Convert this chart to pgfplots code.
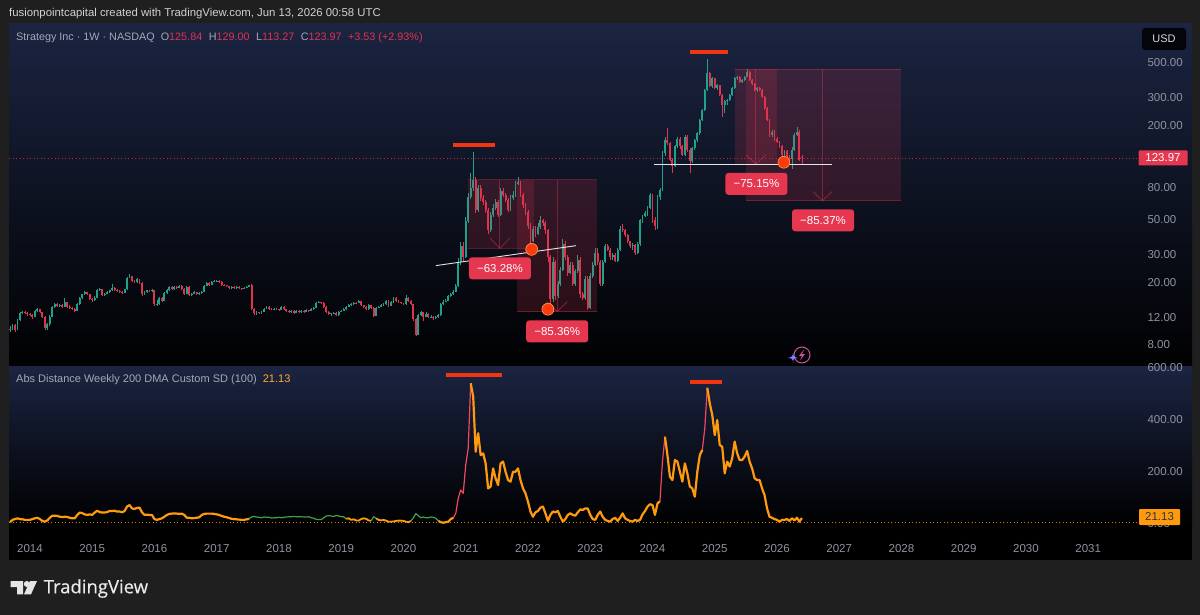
\documentclass[border=0pt]{standalone}
\usepackage{pgfplots}
\usepackage{pgfplotstable}
\usepackage{fontspec}
\setmainfont{Liberation Sans}
\newfontfamily\logofont[FakeBold=0.4]{Open Sans}
\pgfplotsset{compat=1.18}
\definecolor{pagebg}{HTML}{1F1F1F}
\definecolor{navy}{HTML}{1B2441}
\definecolor{upc}{HTML}{1FA18C}
\definecolor{downc}{HTML}{E0344E}
\definecolor{lab}{HTML}{E5374F}
\definecolor{tickc}{HTML}{8F939E}
\definecolor{txtc}{HTML}{A4A8B3}
\definecolor{barred}{HTML}{F23410}
\definecolor{dotred}{HTML}{FF3B0E}
\definecolor{ind}{HTML}{FF9A0F}
\definecolor{indg}{HTML}{3FA14A}
\definecolor{indr}{HTML}{F0485E}
\pgfplotstableread{
x o h l c v
2013.68 9.9 10.5 9.6 10.15 5
2013.72 10.15 10.9 10.0 10.75 14
2013.76 10.75 10.9 9.6 9.95 17
2013.80 9.95 11.7 9.9 11.5 20
2013.84 11.5 12.9 11.4 12.75 17
2013.88 12.75 13.1 12.6 12.9 16
2013.92 12.9 13.1 12.5 12.7 14
2013.96 12.7 12.9 12.3 12.5 14
2014.00 12.5 12.7 12.2 12.4 14
2014.04 12.4 12.6 11.7 12.1 17
2014.08 12.1 13.4 12.0 13.2 20
2014.12 13.2 13.8 13.0 13.5 22
2014.16 13.5 13.6 12.7 12.9 17
2014.20 12.9 13.0 11.9 12.1 10
2014.24 12.1 12.2 10.0 10.3 7
2014.28 10.3 11.1 10.0 10.8 12
2014.32 10.8 12.4 10.6 12.1 22
2014.36 12.1 14.2 12.0 14.0 30
2014.40 14.0 14.8 13.8 14.5 30
2014.44 14.5 14.7 14.0 14.2 29
2014.48 14.2 14.5 14.0 14.3 26
2014.52 14.3 14.5 13.8 14.0 25
2014.56 14.0 15.9 13.9 15.0 26
2014.60 15.0 15.1 13.8 14.0 25
2014.64 14.0 14.3 13.6 13.8 22
2014.68 13.8 14.0 13.4 13.6 20
2014.72 13.6 13.8 13.0 13.2 20
2014.76 13.2 14.7 13.1 14.5 33
2014.80 14.5 16.2 14.4 16.0 42
2014.84 16.0 17.0 15.8 16.8 40
2014.88 16.8 17.7 16.7 17.4 35
2014.92 17.4 17.5 16.6 16.8 33
2014.96 16.8 16.9 15.6 15.8 35
2015.00 15.8 16.0 15.1 15.4 33
2015.04 15.4 16.3 15.2 16.0 42
2015.08 16.0 18.1 15.9 17.9 49
2015.12 17.9 18.4 17.6 18.05 44
2015.16 18.05 18.2 16.3 16.6 42
2015.20 16.6 17.2 16.4 17.0 42
2015.24 17.0 17.6 16.8 17.4 44
2015.28 17.4 18.0 17.2 17.8 48
2015.32 17.8 19.6 17.6 18.5 48
2015.36 18.5 18.7 17.7 17.9 49
2015.40 17.9 18.1 17.4 17.6 46
2015.44 17.6 17.8 17.3 17.5 46
2015.48 17.5 17.7 17.0 17.2 43
2015.52 17.2 18.3 17.1 18.05 48
2015.56 18.05 21.7 18.0 21.4 65
2015.60 21.4 22.6 21.2 21.9 71
2015.64 21.9 22.1 20.2 20.4 58
2015.68 20.4 20.7 19.8 20.1 56
2015.72 20.1 21.2 19.9 20.9 60
2015.76 20.9 21.1 19.6 19.9 61
2015.80 19.9 20.0 16.4 16.8 43
2015.84 16.8 17.6 16.6 17.4 33
2015.88 17.4 18.0 17.2 17.8 34
2015.92 17.8 18.0 17.4 17.6 33
2015.96 17.6 18.1 17.4 17.9 33
2016.00 17.9 18.0 14.2 14.5 17
2016.04 14.5 15.5 14.1 14.6 14
2016.08 14.6 16.2 14.3 16.0 17
2016.12 16.0 16.2 15.0 15.3 20
2016.16 15.3 17.4 15.2 17.2 26
2016.20 17.2 18.1 17.0 17.9 33
2016.24 17.9 19.0 17.7 18.8 37
2016.28 18.8 19.0 17.8 18.05 38
2016.32 18.05 19.0 17.9 18.8 39
2016.36 18.8 19.1 18.3 18.5 38
2016.40 18.5 19.3 18.4 19.0 37
2016.44 19.0 19.2 18.1 18.3 38
2016.48 18.3 18.4 16.8 17.0 33
2016.52 17.0 19.0 16.9 18.8 22
2016.56 18.8 18.9 16.3 16.6 22
2016.60 16.6 17.2 16.4 17.0 20
2016.64 17.0 17.6 16.8 17.4 21
2016.68 17.4 17.5 16.6 16.8 22
2016.72 16.8 17.4 16.6 17.2 24
2016.76 17.2 17.6 17.0 17.4 33
2016.80 17.4 19.2 17.3 19.0 37
2016.84 19.0 20.1 18.9 19.9 38
2016.88 19.9 20.1 19.2 19.4 38
2016.92 19.4 20.4 19.3 20.2 38
2016.96 20.2 20.6 20.0 20.4 37
2017.00 20.4 20.7 20.2 20.5 35
2017.04 20.5 20.6 20.0 20.2 33
2017.08 20.2 20.3 19.2 19.4 29
2017.12 19.4 19.5 19.0 19.2 26
2017.16 19.2 19.3 18.8 19.0 24
2017.20 19.0 19.1 18.3 18.5 21
2017.24 18.5 19.0 18.3 18.8 18
2017.28 18.8 18.9 18.3 18.5 17
2017.32 18.5 19.0 18.3 18.8 16
2017.36 18.8 18.9 18.2 18.4 15
2017.40 18.4 18.5 18.0 18.2 14
2017.44 18.2 18.7 18.1 18.5 14
2017.48 18.5 19.0 18.4 18.8 16
2017.52 18.8 19.4 18.7 19.2 18
2017.56 19.2 19.6 13.3 13.5 25
2017.60 13.5 13.7 12.4 12.8 27
2017.64 12.8 13.1 12.4 12.9 25
2017.68 12.9 13.0 12.5 12.8 24
2017.72 12.8 13.2 12.6 13.0 22
2017.76 13.0 13.8 12.9 13.6 25
2017.80 13.6 14.2 13.5 14.0 24
2017.84 14.0 14.1 13.4 13.6 24
2017.88 13.6 13.8 13.3 13.5 21
2017.92 13.5 13.8 13.3 13.6 22
2017.96 13.6 13.7 13.3 13.5 22
2018.00 13.5 13.6 13.2 13.4 24
2018.04 13.4 14.2 13.3 14.0 22
2018.08 14.0 14.1 13.3 13.5 24
2018.12 13.5 13.6 13.0 13.2 25
2018.16 13.2 13.3 12.7 12.9 26
2018.20 12.9 13.4 12.8 13.2 26
2018.24 13.2 13.3 12.6 12.8 27
2018.28 12.8 13.4 12.7 13.2 26
2018.32 13.2 13.3 12.7 12.9 26
2018.36 12.9 13.4 12.8 13.2 26
2018.40 13.2 13.3 12.8 13.0 25
2018.44 13.0 13.5 12.9 13.3 25
2018.48 13.3 13.4 13.0 13.2 26
2018.52 13.2 13.7 13.1 13.5 22
2018.56 13.5 14.0 13.4 13.8 20
2018.60 13.8 15.0 13.7 14.8 16
2018.64 14.8 15.2 14.7 15.0 15
2018.68 15.0 15.1 14.7 14.9 15
2018.72 14.9 15.0 13.8 14.0 22
2018.76 14.0 14.1 12.8 13.0 29
2018.80 13.0 13.1 12.4 12.6 30
2018.84 12.6 12.8 12.3 12.7 29
2018.88 12.7 13.0 12.5 12.8 27
2018.92 12.8 12.9 12.2 12.4 31
2018.96 12.4 13.2 12.3 13.0 29
2019.00 13.0 13.4 12.9 13.2 26
2019.04 13.2 13.7 13.1 13.5 26
2019.08 13.5 14.2 13.4 14.0 18
2019.12 14.0 14.5 13.9 14.3 20
2019.16 14.3 14.7 14.2 14.5 14
2019.20 14.5 15.1 14.4 14.9 16
2019.24 14.9 15.0 14.7 14.8 12
2019.28 14.8 15.4 14.8 15.2 11
2019.32 15.2 15.3 14.1 14.3 17
2019.36 14.3 14.4 13.8 14.0 20
2019.40 14.0 14.1 13.3 13.5 18
2019.44 13.5 14.5 13.4 14.3 12
2019.48 14.3 14.4 13.6 13.8 10
2019.52 13.8 13.9 12.1 12.3 26
2019.56 12.3 14.0 12.2 13.8 20
2019.60 13.8 14.2 13.7 14.0 14
2019.64 14.0 14.5 13.9 14.3 12
2019.68 14.3 14.7 14.2 14.5 14
2019.72 14.5 15.5 14.4 15.3 11
2019.76 15.3 15.4 14.0 14.2 7
2019.80 14.2 15.2 14.1 15.0 7
2019.84 15.0 16.2 14.9 16.0 8
2019.88 16.0 16.1 15.1 15.3 10
2019.92 15.3 15.4 14.8 15.0 11
2019.96 15.0 15.1 14.6 14.8 11
2020.00 14.8 14.9 14.3 14.5 10
2020.04 14.5 16.7 14.4 16.0 7
2020.08 16.0 16.2 15.1 15.3 5
2020.12 15.3 15.4 14.3 14.5 10
2020.16 14.5 14.6 11.4 11.7 22
2020.20 11.7 11.8 9.1 9.3 38
2020.24 9.3 12.6 9.2 12.4 30
2020.28 12.4 13.2 12.3 12.9 22
2020.32 12.9 13.0 11.4 12.1 25
2020.36 12.1 12.9 12.0 12.6 22
2020.40 12.6 12.7 11.8 12.0 22
2020.44 12.0 12.4 11.9 12.1 25
2020.48 12.1 12.2 11.6 11.8 24
2020.52 11.8 12.3 11.7 12.0 20
2020.56 12.0 12.6 11.9 12.4 10
2020.60 12.4 14.8 12.3 14.5 5
2020.64 14.5 15.4 14.3 15.1 3
2020.68 15.1 15.6 15.0 15.3 5
2020.72 15.3 16.6 15.2 16.3 7
2020.76 16.3 17.2 16.2 16.8 17
2020.80 16.8 17.9 16.6 17.5 22
2020.84 17.5 19.6 17.4 19.0 39
2020.88 19.0 28.5 18.8 27 97
2020.92 27 36 26 34 129
2020.96 34 36 27 29 116
2021.00 29 52 28.5 49 225
2021.04 49 74 48 70 289
2021.08 70 100 68 80 539
2021.12 80 135 76 90 488
2021.16 90 94 55 58 276
2021.20 58 84 56 80 347
2021.24 80 83 66 69 263
2021.28 69 72 62 65 270
2021.32 65 67 55 58 231
2021.36 58 60 41 43 135
2021.40 43 56 42 54 142
2021.44 54 63 52 60 212
2021.48 60 68 58 65 174
2021.52 65 67 52 54 148
2021.56 54 80 53 76 231
2021.60 76 80 70 72 238
2021.64 72 74 65 67 199
2021.68 67 69 56 58 167
2021.72 58 72 57 69 161
2021.76 69 76 67 72 199
2021.80 72 88 70 85 199
2021.84 85 94 83 87 212
2021.88 87 89 70 72 167
2021.92 72 74 60 62 135
2021.96 62 64 54 56 116
2022.00 56 58 44 46 84
2022.04 46 48 35 36.5 46
2022.08 36.5 46 36 44 26
2022.12 44 46 39 41 43
2022.16 41 48 40 45 48
2022.20 45 53 44 50 61
2022.24 50 51 46 47.5 65
2022.28 47.5 49 41 43 39
2022.32 43 44 27 29 10
2022.36 29 30 13.4 15.6 33
2022.40 15.6 29 15 27 46
2022.44 27 28 15.5 16.3 43
2022.48 16.3 20.5 16 19.5 48
2022.52 19.5 25 19 24 26
2022.56 24 38 23.5 35 7
2022.60 35 37 28 29 17
2022.64 29 30 22 23 33
2022.68 23 27 22.5 26 39
2022.72 26 27 19 19.5 33
2022.76 19.5 24.5 19 23.5 30
2022.80 23.5 30 23 28 43
2022.84 28 29 16 16.8 54
2022.88 16.8 17.5 15.5 16 52
2022.92 16 22 15.5 21 58
2022.96 21 22 13.3 13.8 58
2023.00 13.8 23 13.5 22 33
2023.04 22 27 21.5 26 17
2023.08 26 33 25.5 31 14
2023.12 31 33 26 27 33
2023.16 27 28 19 19.5 46
2023.20 19.5 28 19 27 26
2023.24 27 35 26.5 34 14
2023.28 34 35 31.5 32.4 10
2023.32 32.4 33 28 29 7
2023.36 29 31 28 30 17
2023.40 30 31 27 27.5 22
2023.44 27.5 33 27 32 10
2023.48 32 46 31.5 44 22
2023.52 44 47 42 43 39
2023.56 43 44 39 40 20
2023.60 40 41 35.5 36.5 14
2023.64 36.5 37 33 34 10
2023.68 34 35.5 32 34.5 7
2023.72 34.5 35 30 31 14
2023.76 31 36 30.5 35 10
2023.80 35 51 34 50 14
2023.84 50 54 48 53 35
2023.88 53 57 52 55 48
2023.92 55 61 53 60 65
2023.96 60 74 59 72 74
2024.00 72 73 48 51 71
2024.04 50 52 43 46 33
2024.08 46 72 44 70 77
2024.12 70 80 67 78 86
2024.16 78 137 76 133 238
2024.20 133 170 128 162 334
2024.24 162 193 150 155 263
2024.28 155 158 118 121 180
2024.32 121 124 100 110 167
2024.36 110 150 108 147 244
2024.40 147 170 144 165 238
2024.44 165 168 142 147 199
2024.48 147 150 127 130 161
2024.52 130 175 128 170 231
2024.56 170 174 136 140 193
2024.60 140 143 100 118 142
2024.64 118 146 116 143 135
2024.68 143 165 140 162 103
2024.72 162 182 158 178 199
2024.76 178 220 175 217 263
2024.80 217 255 214 251 283
2024.84 251 342 248 337 366
2024.88 337 530 330 430 522
2024.92 430 436 350 355 462
2024.96 355 410 345 400 417
2025.00 400 404 340 345 340
2025.04 345 365 335 360 398
2025.08 360 364 310 314 302
2025.12 314 318 225 270 295
2025.16 270 290 240 285 193
2025.20 285 295 270 291 238
2025.24 291 318 285 314 219
2025.28 314 350 310 345 251
2025.32 345 405 340 400 315
2025.36 400 415 390 410 270
2025.40 410 414 375 380 244
2025.44 380 395 375 390 244
2025.48 390 415 385 410 257
2025.52 410 455 405 440 279
2025.56 440 445 385 390 238
2025.60 390 395 365 370 212
2025.64 370 375 330 337 174
2025.68 337 350 325 345 167
2025.72 345 350 330 337 167
2025.76 337 340 300 305 135
2025.80 305 310 252 258 109
2025.84 258 262 212 217 58
2025.88 217 220 170 175 26
2025.92 175 186 170 183 22
2025.96 183 186 160 165 17
2026.00 165 168 155 158 14
2026.04 158 160 143 147 7
2026.08 147 150 126 130 14
2026.12 130 140 108 137 14
2026.16 137 140 122 127 17
2026.20 127 129 118 123 10
2026.24 123 145 105 140 20
2026.28 140 178 138 175 12
2026.32 175 195 172 183 22
2026.36 183 186 118 120.44 7
2026.40 125.84 129.00 113.27 123.97 21.13
}\candles
\pgfplotsset{
  chartaxis/.style={
    scale only axis, width=1128pt, axis line style={draw=none},
    major tick length=0pt, minor tick length=0pt, tick style={draw=none},
    xmin=2013.664, xmax=2031.782, clip=false,
    tick label style={font=\fontsize{11.5}{13}\selectfont, text=tickc},
    yticklabel pos=right,
    yticklabel style={anchor=west, xshift=7pt},
  },
  candle/.style n args={3}{only marks, mark=*, mark size=0pt, mark options={draw=none, fill=none}, forget plot,
    error bars/y dir=#3, error bars/y explicit, error bars/error mark=none,
    error bars/error bar style={line width=#1, color=#2, draw=#2}},
  ann/.style={draw=none, fill=lab, fill opacity=0.17, forget plot},
}
\newcommand{\lbl}[2]{\node[fill=lab, rounded corners=3pt, text=white, minimum width=62pt, minimum height=22pt, inner sep=0pt, font=\fontsize{11.5}{13}\selectfont] at (axis cs:#1) {#2};}
\begin{document}
\begin{tikzpicture}[x=1pt,y=-1pt]
\path[use as bounding box,fill=pagebg] (0,0) rectangle (1200,615);
\node[anchor=west,inner sep=0pt,text=white!82!black,font=\fontsize{11.35}{13}\selectfont] at (9,14) {fusionpointcapital created with TradingView.com, Jun 13, 2026 00:58 UTC};
% panels
\shade[top color=navy,bottom color=black!97!navy] (9,24) rectangle (1192,365);
\shade[top color=navy,bottom color=black] (9,366) rectangle (1192,526);
\fill[black] (9,526) rectangle (1192,560);
\begin{axis}[chartaxis, name=main, at={(9pt,-24pt)}, anchor=north west, height=341pt,
  ymode=log, ymin=5.96, ymax=885.8, xtick=\empty,
  ytick={8,12,20,30,50,80,200,300,500},
  yticklabels={8.00,12.00,20.00,30.00,50.00,80.00,200.00,300.00,500.00},
  log basis y=10]
\addplot[lab, opacity=.75, dash pattern=on 1pt off 2.5pt, line width=0.8pt, forget plot] coordinates {(2013.664,123.97) (2031.782,123.97)};
\addplot[candle={0.7pt}{upc}{both}, restrict expr to domain={\thisrow{c}-\thisrow{o}}{0:10000}]
  table[x=x,y=c,y error plus expr=\thisrow{h}-\thisrow{c},y error minus expr=\thisrow{c}-\thisrow{l}] {\candles};
\addplot[candle={0.7pt}{downc}{both}, restrict expr to domain={\thisrow{o}-\thisrow{c}}{0.0001:10000}]
  table[x=x,y=c,y error plus expr=\thisrow{h}-\thisrow{c},y error minus expr=\thisrow{c}-\thisrow{l}] {\candles};
\addplot[candle={1.9pt}{upc}{minus}, restrict expr to domain={\thisrow{c}-\thisrow{o}}{0:10000}]
  table[x=x,y=c,y error minus expr=\thisrow{c}-\thisrow{o}] {\candles};
\addplot[candle={1.9pt}{downc}{plus}, restrict expr to domain={\thisrow{o}-\thisrow{c}}{0.0001:10000}]
  table[x=x,y=c,y error plus expr=\thisrow{o}-\thisrow{c}] {\candles};
% first drawdown
\addplot[ann] coordinates {(2021.03,90) (2022.09,90) (2022.09,33) (2021.03,33)} -- cycle;
\addplot[ann] coordinates {(2021.83,90) (2023.11,90) (2023.11,13.03) (2021.83,13.03)} -- cycle;
\addplot[lab, opacity=.35, line width=1pt, forget plot] coordinates {(2021.03,33) (2022.09,33)};
\addplot[lab, opacity=.35, line width=1pt, forget plot] coordinates {(2021.03,90) (2023.11,90)};
\addplot[lab, opacity=.35, line width=1pt, forget plot] coordinates {(2021.83,13.03) (2023.11,13.03)};
\addplot[lab, opacity=.4, line width=1pt, forget plot] coordinates {(2021.55,90) (2021.55,33)};
\addplot[lab, opacity=.4, line width=1pt, forget plot] coordinates {(2021.39,38.4) (2021.55,33) (2021.71,38.4)};
\addplot[lab, opacity=.4, line width=1pt, forget plot] coordinates {(2022.47,90) (2022.47,13.03)};
\addplot[lab, opacity=.4, line width=1pt, forget plot] coordinates {(2022.31,15.1) (2022.47,13.03) (2022.63,15.1)};
% second drawdown
\addplot[ann] coordinates {(2025.33,456) (2026.00,456) (2026.00,113.6) (2025.33,113.6)} -- cycle;
\addplot[ann] coordinates {(2025.50,456) (2027.99,456) (2027.99,66.4) (2025.50,66.4)} -- cycle;
\addplot[lab, opacity=.35, line width=1pt, forget plot] coordinates {(2025.33,456) (2027.99,456)};
\addplot[lab, opacity=.35, line width=1pt, forget plot] coordinates {(2025.50,66.4) (2027.99,66.4)};
\addplot[lab, opacity=.4, line width=1pt, forget plot] coordinates {(2025.66,456) (2025.66,113.6)};
\addplot[lab, opacity=.4, line width=1pt, forget plot] coordinates {(2025.50,130) (2025.66,113.6) (2025.82,130)};
\addplot[lab, opacity=.4, line width=1pt, forget plot] coordinates {(2026.73,456) (2026.73,66.4)};
\addplot[lab, opacity=.4, line width=1pt, forget plot] coordinates {(2026.58,75.8) (2026.73,66.4) (2026.88,75.8)};
% white lines, red bars, dots
\addplot[white!90!black, line width=0.9pt, forget plot] coordinates {(2020.52,25.6) (2022.77,34.3)};
\addplot[white!90!black, line width=0.9pt, forget plot] coordinates {(2024.02,113.6) (2026.89,113.6)};
\addplot[barred, line width=4pt, forget plot] coordinates {(2020.80,149.5) (2021.47,149.5)};
\addplot[barred, line width=4pt, forget plot] coordinates {(2024.61,587) (2025.22,587)};
\addplot[only marks, mark=*, mark size=6pt, mark options={fill=dotred, draw=orange!60!white, line width=.5pt}, forget plot]
  coordinates {(2022.06,32.5) (2022.32,13.5) (2026.11,116.6)};
\lbl{2021.55,24.6}{−63.28\%}
\lbl{2022.47,9.76}{−85.36\%}
\lbl{2025.67,84.9}{−75.15\%}
\lbl{2026.74,49.8}{−85.37\%}
\end{axis}
\begin{axis}[chartaxis, name=sub, at={(9pt,-366pt)}, anchor=north west, height=164pt,
  ymin=-25, ymax=605.7,
  xtick={2014,...,2031}, x tick label style={/pgf/number format/1000 sep={}, /pgf/number format/assume math mode=true, yshift=-11pt},
  ytick={0,200,400,600}, yticklabels={0.00,200.00,400.00,600.00}]
\addplot[ind, opacity=.8, dash pattern=on 1pt off 2.5pt, line width=0.7pt, forget plot] coordinates {(2013.664,5) (2031.782,5)};
\addplot[ind, line width=2.2pt, line join=round, restrict x to domain=2013:2017.52, forget plot] table[x=x,y=v] {\candles};
\addplot[indg, line width=1.2pt, line join=round, restrict x to domain=2017.52:2019.08, forget plot] table[x=x,y=v] {\candles};
\addplot[ind, line width=1.8pt, line join=round, restrict x to domain=2019.08:2019.48, forget plot] table[x=x,y=v] {\candles};
\addplot[indg, line width=1.2pt, line join=round, restrict x to domain=2019.48:2019.56, forget plot] table[x=x,y=v] {\candles};
\addplot[ind, line width=1.8pt, line join=round, restrict x to domain=2019.56:2020.12, forget plot] table[x=x,y=v] {\candles};
\addplot[indg, line width=1.2pt, line join=round, restrict x to domain=2020.12:2020.56, forget plot] table[x=x,y=v] {\candles};
\addplot[ind, line width=2.2pt, line join=round, restrict x to domain=2020.56:2020.80, forget plot] table[x=x,y=v] {\candles};
\addplot[indr, line width=1.2pt, line join=round, restrict x to domain=2020.80:2021.08, forget plot] table[x=x,y=v] {\candles};
\addplot[ind, line width=2.2pt, line join=round, restrict x to domain=2021.08:2024.12, forget plot] table[x=x,y=v] {\candles};
\addplot[indr, line width=1.2pt, line join=round, restrict x to domain=2024.12:2024.20, forget plot] table[x=x,y=v] {\candles};
\addplot[ind, line width=2.2pt, line join=round, restrict x to domain=2024.20:2024.80, forget plot] table[x=x,y=v] {\candles};
\addplot[indr, line width=1.2pt, line join=round, restrict x to domain=2024.80:2024.88, forget plot] table[x=x,y=v] {\candles};
\addplot[ind, line width=2.2pt, line join=round, restrict x to domain=2024.88:2027, forget plot] table[x=x,y=v] {\candles};
\addplot[barred, line width=4pt, forget plot] coordinates {(2020.69,571) (2021.59,571)};
\addplot[barred, line width=4pt, forget plot] coordinates {(2024.61,544) (2025.12,544)};
\end{axis}
% price tags and chrome
\node[fill=lab,rounded corners=1pt,text=white,minimum width=49pt,minimum height=15pt,inner sep=0pt,font=\fontsize{11.5}{13}\selectfont] at (1163,158) {123.97};
\node[fill=ind,rounded corners=1pt,text=black!80,minimum width=41pt,minimum height=16pt,inner sep=0pt,font=\fontsize{11.5}{13}\selectfont] at (1159.5,517) {21.13};
\node[fill=black!85!navy,rounded corners=3pt,text=white!85!black,minimum width=44pt,minimum height=22pt,inner sep=0pt,font=\fontsize{11}{13}\selectfont] at (1164,39) {USD\hspace{8pt}};
\node[anchor=west,inner sep=0pt,font=\fontsize{10.8}{13}\selectfont,text=txtc] at (16,37.5) {Strategy Inc · 1W · NASDAQ\hspace{6pt}O\textcolor{downc}{125.84}\hspace{6.5pt}H\textcolor{downc}{129.00}\hspace{6.5pt}L\textcolor{downc}{113.27}\hspace{6.5pt}C\textcolor{downc}{123.97}\hspace{6.5pt}\textcolor{downc}{+3.53 (+2.93\%)}};
\node[anchor=west,inner sep=0pt,font=\fontsize{11}{13}\selectfont,text=txtc] at (16,380) {Abs Distance Weekly 200 DMA Custom SD (100)\hspace{6pt}\textcolor{ind!85!white}{21.13}};
% small sparkle icon
\draw[magenta!55!violet!80!white,line width=1pt] (802,355) circle (8);
\fill[magenta!55!violet!80!white] (804,349.5) -- (799,356) -- (802,356) -- (800,360.5) -- (805,354) -- (802,354) -- cycle;
\fill[blue!50!white] (793,352.5) .. controls (793.4,356.6) .. (798,358) .. controls (793.4,358.4) .. (793,363) .. controls (792.6,358.4) .. (788,358) .. controls (792.6,356.6) .. cycle;
% TradingView logo
\fill[white!90!black] (10.7,581) -- (23,581) -- (23,594.3) -- (17,594.3) -- (17,587) -- (10.7,587) -- cycle;
\fill[white!90!black] (26.8,584) circle (3);
\fill[white!90!black] (30,581) -- (37,581) -- (31,594.3) -- (24,594.3) -- cycle;
\node[anchor=west,inner sep=0pt,text=white!92!black,font=\logofont\fontsize{18.5}{22}\selectfont] at (43.5,588.5) {TradingView};
\end{tikzpicture}
\end{document}
